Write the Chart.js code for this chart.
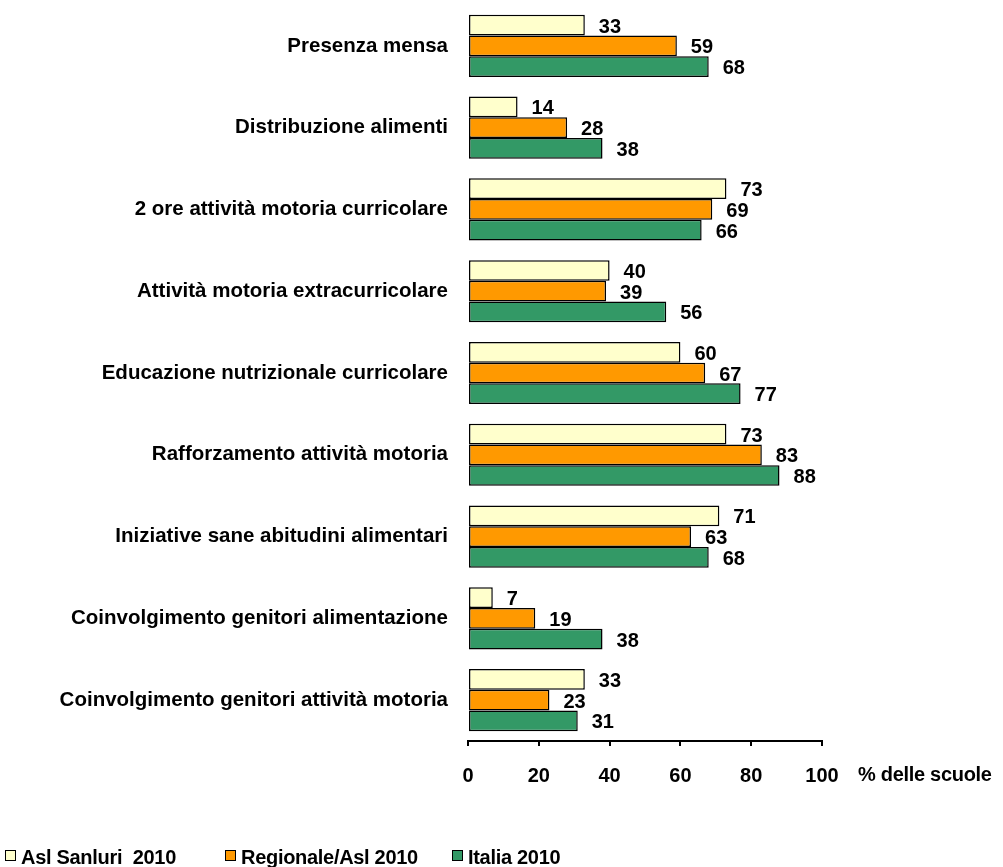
<!DOCTYPE html>
<html>
<head>
<meta charset="utf-8">
<script src="https://cdn.jsdelivr.net/npm/chart.js@4/dist/chart.umd.min.js"></script>
<style>
  html, body { margin: 0; padding: 0; background: #fff; }
  #wrap { position: relative; width: 1003px; height: 867px; font-family: "Liberation Sans", Arial, sans-serif; }
  #chart { position: absolute; left: 0; top: 0; }
  .unit { position: absolute; left: 858px; top: 763px; font-weight: bold; font-size: 20px; letter-spacing: -0.3px; }
  .legend-item { position: absolute; top: 846px; display: flex; align-items: center; font-weight: bold; font-size: 20px; letter-spacing: -0.3px; white-space: pre; }
  .legend-item span.box { display: inline-block; width: 9px; height: 9px; border: 1px solid #000; margin-right: 5px; margin-top: -4px; }
</style>
</head>
<body>
<div id="wrap">
  <canvas id="chart" width="1003" height="867"></canvas>
  <div class="unit">% delle scuole</div>
  <div id="legend"></div>
</div>
<script>
// Data
const categories = [
  'Presenza mensa',
  'Distribuzione alimenti',
  '2 ore attività motoria curricolare',
  'Attività motoria extracurricolare',
  'Educazione nutrizionale curricolare',
  'Rafforzamento attività motoria',
  'Iniziative sane abitudini alimentari',
  'Coinvolgimento genitori alimentazione',
  'Coinvolgimento genitori attività motoria'
];
const aslSanluri = [33, 14, 73, 40, 60, 73, 71, 7, 33];
const regionale = [59, 28, 69, 39, 67, 83, 63, 19, 23];
const italia = [68, 38, 66, 56, 77, 88, 68, 38, 31];
const seriesNames = ['Asl Sanluri  2010', 'Regionale/Asl 2010', 'Italia 2010'];
const xTicks = [0, 20, 40, 60, 80, 100];

const colors = ['#FFFFCC', '#FF9900', '#339966'];
const legendX = [5, 225, 452];
const FONT = '"Liberation Sans", Arial, sans-serif';

// value labels at the end of each bar
const valueLabels = {
  id: 'valueLabels',
  afterDatasetsDraw(chart) {
    const ctx = chart.ctx;
    ctx.save();
    ctx.font = 'bold 20px ' + FONT;
    ctx.fillStyle = '#000';
    ctx.textAlign = 'left';
    ctx.textBaseline = 'middle';
    chart.data.datasets.forEach((ds, i) => {
      chart.getDatasetMeta(i).data.forEach((bar, j) => {
        ctx.fillText(ds.data[j], bar.x + 14, bar.y + 2);
      });
    });
    ctx.restore();
  }
};

const ctx = document.getElementById('chart');
new Chart(ctx, {
  type: 'bar',
  data: {
    labels: categories,
    datasets: [
      { label: seriesNames[0], data: aslSanluri, backgroundColor: colors[0] },
      { label: seriesNames[1], data: regionale, backgroundColor: colors[1] },
      { label: seriesNames[2], data: italia, backgroundColor: colors[2] }
    ].map(d => Object.assign(d, {
      borderColor: '#000',
      borderWidth: 1.5,
      borderSkipped: false,
      categoryPercentage: 0.76,
      barPercentage: 1
    }))
  },
  options: {
    indexAxis: 'y',
    responsive: false,
    animation: false,
    layout: { padding: { top: 5, right: 181, bottom: 66, left: 0 } },
    plugins: { legend: { display: false }, tooltip: { enabled: false } },
    scales: {
      x: {
        min: 0, max: 100,
        afterBuildTicks: s => { s.ticks = xTicks.map(v => ({ value: v })); },
        afterFit: s => { s.height = 60; },
        grid: { drawOnChartArea: false, drawTicks: true, tickLength: 5, color: '#000', lineWidth: 2 },
        border: { display: true, color: '#000', width: 2 },
        ticks: {
          padding: 18,
          color: '#000',
          font: { family: FONT, size: 20, weight: 'bold' }
        }
      },
      y: {
        afterFit: s => { s.width = 468; s.paddingTop = 0; s.paddingBottom = 0; },
        grid: { display: false },
        border: { display: false },
        ticks: {
          padding: 12,
          color: '#000',
          font: { family: FONT, size: 20.5, weight: 'bold' }
        }
      }
    }
  },
  plugins: [valueLabels]
});

// legend at the bottom
const legend = document.getElementById('legend');
seriesNames.forEach((name, i) => {
  const item = document.createElement('div');
  item.className = 'legend-item';
  item.style.left = legendX[i] + 'px';
  const box = document.createElement('span');
  box.className = 'box';
  box.style.background = colors[i];
  item.appendChild(box);
  item.appendChild(document.createTextNode(name));
  legend.appendChild(item);
});
</script>
</body>
</html>
